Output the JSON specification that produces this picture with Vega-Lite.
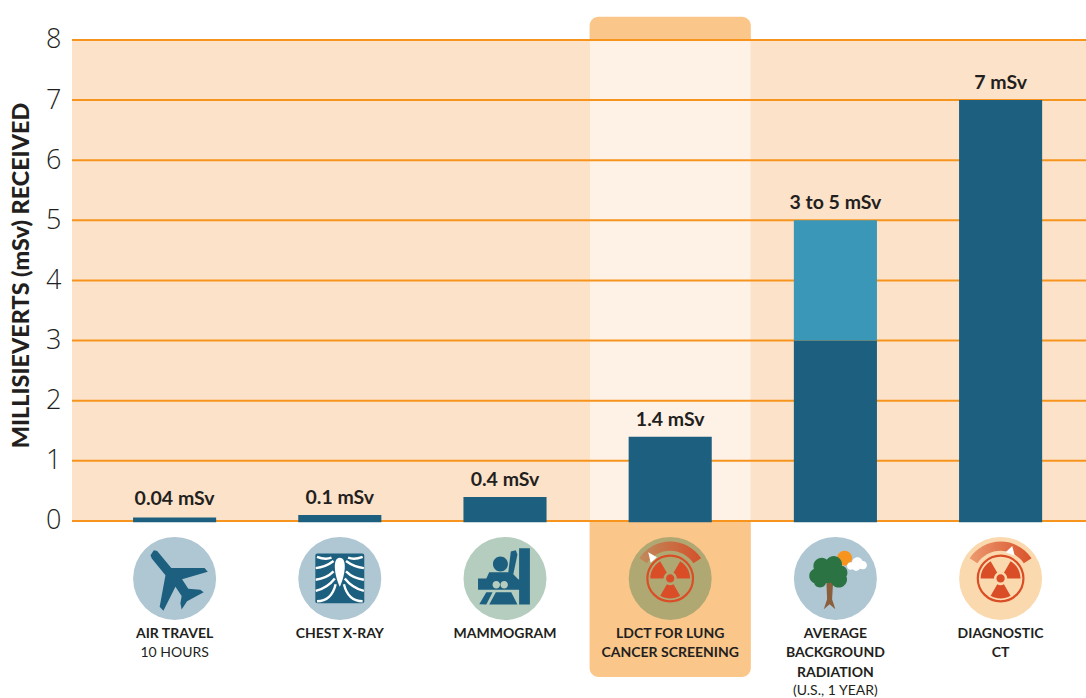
{
"$schema":"https://vega.github.io/schema/vega-lite/v6.json",
"width":1014,"height":698,
"autosize":{"type":"none"},
"padding":{"left":72,"top":0,"right":0,"bottom":0},
"background":"#ffffff",
"config":{"view":{"stroke":null}},
"datasets":{
"grid":[{"v":0},{"v":1},{"v":2},{"v":3},{"v":4},{"v":5},{"v":6},{"v":7},{"v":8}],
"band":[{"from":0,"to":8}],
"cats":[
{"cat":"air","label":"0.04 mSv","top":0.08,"name":"AIR TRAVEL"},
{"cat":"xray","label":"0.1 mSv","top":0.1,"name":"CHEST X-RAY"},
{"cat":"mammo","label":"0.4 mSv","top":0.4,"name":"MAMMOGRAM"},
{"cat":"ldct","label":"1.4 mSv","top":1.4,"name":"LDCT FOR LUNG\nCANCER SCREENING"},
{"cat":"bg","label":"3 to 5 mSv","top":5,"name":"AVERAGE\nBACKGROUND\nRADIATION"},
{"cat":"ct","label":"7 mSv","top":7,"name":"DIAGNOSTIC\nCT"}],
"subs":[{"cat":"air","sub":"10 HOURS","line":1},{"cat":"bg","sub":"(U.S., 1 YEAR)","line":3}],
"segs":[
{"cat":"air","from":-0.02,"to":0.06,"part":"low"},
{"cat":"xray","from":-0.02,"to":0.1,"part":"low"},
{"cat":"mammo","from":-0.02,"to":0.4,"part":"low"},
{"cat":"ldct","from":-0.02,"to":1.4,"part":"low"},
{"cat":"bg","from":-0.02,"to":3,"part":"low"},
{"cat":"bg","from":3,"to":5,"part":"high"},
{"cat":"ct","from":-0.02,"to":7,"part":"low"}]
},
"layer":[
{"data":{"name":"band"},
 "mark":{"type":"rect","color":"#FCE2C8"},
 "encoding":{
  "y":{"field":"from","type":"quantitative",
   "scale":{"domain":[-2.944,8.665],"nice":false,"zero":false},
   "axis":{"values":[0,1,2,3,4,5,6,7,8],"domain":false,"ticks":false,"grid":false,"labelFont":"Open Sans","labelFontSize":27,"labelFontWeight":300,"labelColor":"#231F20","labelPadding":11,"format":"d","title":"MILLISIEVERTS (mSv) RECEIVED","titleFont":"Lato","titleFontWeight":900,"titleFontSize":23.4,"titleColor":"#231F20","titleX":-51,"titleY":275,"titleAngle":270,"titleAlign":"center","titleBaseline":"middle"}},
  "y2":{"field":"to"}}},
{"data":{"name":"cats"},
 "transform":[{"filter":"datum.cat=='ldct'"}],
 "encoding":{"x":{"field":"cat","type":"nominal","axis":null,"scale":{"type":"band","domain":["air","xray","mammo","ldct","bg","ct"],"range":[20,1011.2],"paddingInner":0,"paddingOuter":0}}},
 "layer":[
  {"mark":{"type":"bar","color":"#FBC68A","cornerRadius":9,"width":{"band":0.976}},
   "encoding":{"y":{"datum":8.385,"type":"quantitative"},"y2":{"datum":-2.595}}},
  {"mark":{"type":"bar","color":"#FEF2E6","width":{"band":0.976}},
   "encoding":{"y":{"datum":8,"type":"quantitative"},"y2":{"datum":0}}}
 ]},
{"data":{"name":"grid"},
 "mark":{"type":"rule","color":"#F7941D","strokeWidth":2},
 "encoding":{"y":{"field":"v","type":"quantitative"}}},
{"encoding":{"x":{"field":"cat","type":"nominal","axis":null,"scale":{"type":"band","domain":["air","xray","mammo","ldct","bg","ct"],"range":[20,1011.2],"paddingInner":0,"paddingOuter":0}}},
 "layer":[
  {"data":{"name":"segs"},
   "mark":{"type":"bar","width":{"band":0.503}},
   "encoding":{
    "y":{"field":"from","type":"quantitative"},"y2":{"field":"to"},
    "color":{"field":"part","type":"nominal","legend":null,"scale":{"domain":["low","high"],"range":["#1D5F7F","#3A97B8"]}}}},
  {"data":{"name":"cats"},
   "mark":{"type":"text","font":"Lato","fontWeight":"bold","fontSize":19.5,"color":"#231F20","baseline":"alphabetic","dy":-11},
   "encoding":{"y":{"field":"top","type":"quantitative"},"text":{"field":"label"}}},
  {"data":{"name":"cats"},
   "mark":{"type":"point","shape":"circle","size":6889,"filled":true,"opacity":1,"strokeWidth":0},
   "encoding":{"y":{"datum":-0.956,"type":"quantitative"},
    "fill":{"field":"cat","type":"nominal","legend":null,"scale":{"domain":["air","xray","mammo","ldct","bg","ct"],"range":["#AFC6D3","#AFC6D3","#B4CDBF","#B0A873","#AFC6D3","#FBD9AE"]}}}},
  {"data":{"name":"cats"},"transform":[{"filter":"datum.cat=='air'"}],
   "mark":{"type":"point","filled":true,"opacity":1,"strokeWidth":0,"size":6889,"color":"#1D5F7F",
    "shape":"M-0.58,-0.56 L-0.5,-0.68 L-0.42,-0.66 L-0.08,-0.25 L0.72,-0.25 L0.8,-0.16 L0.18,0.02 L0.33,0.25 L0.62,0.27 L0.7,0.33 L0.3,0.55 L0.17,0.75 L0.14,0.6 L0.17,0.42 L0.02,0.2 L-0.27,0.78 L-0.36,0.68 L-0.22,-0.08 L-0.55,-0.48 Z"},
   "encoding":{"y":{"datum":-0.956,"type":"quantitative"}}},
  {"data":{"name":"cats"},"transform":[{"filter":"datum.cat=='xray'"}],
   "mark":{"type":"point","filled":true,"opacity":1,"strokeWidth":0,"size":6889,"color":"#1D5F7F",
    "shape":"M-0.59,-0.55 Q-0.59,-0.6 -0.54,-0.6 L0.54,-0.6 Q0.59,-0.6 0.59,-0.55 L0.59,0.55 Q0.59,0.6 0.54,0.6 L-0.54,0.6 Q-0.59,0.6 -0.59,0.55 Z"},
   "encoding":{"y":{"datum":-0.956,"type":"quantitative"}}},
  {"data":{"name":"cats"},"transform":[{"filter":"datum.cat=='xray'"}],
   "mark":{"type":"point","filled":false,"opacity":1,"strokeWidth":2.4,"size":6889,"color":"#ffffff",
    "shape":"M-0.55,-0.52 Q-0.35,-0.44 -0.2,-0.5 M-0.58,-0.25 Q-0.35,-0.27 -0.15,-0.42 M-0.58,0.03 Q-0.32,0 -0.15,-0.17 M-0.58,0.3 Q-0.3,0.23 -0.12,0 M-0.55,0.55 Q-0.2,0.55 -0.1,0.14 M0.55,-0.52 Q0.35,-0.44 0.2,-0.5 M0.58,-0.25 Q0.35,-0.27 0.15,-0.42 M0.58,0.03 Q0.32,0 0.15,-0.17 M0.58,0.3 Q0.3,0.23 0.12,0 M0.55,0.55 Q0.2,0.55 0.1,0.14"},
   "encoding":{"y":{"datum":-0.956,"type":"quantitative"}}},
  {"data":{"name":"cats"},"transform":[{"filter":"datum.cat=='xray'"}],
   "mark":{"type":"point","filled":true,"opacity":1,"strokeWidth":0,"size":6889,"color":"#ffffff",
    "shape":"M0,-0.5 C0.18,-0.5 0.14,-0.1 0,0.2 C-0.14,-0.1 -0.18,-0.5 0,-0.5 Z"},
   "encoding":{"y":{"datum":-0.956,"type":"quantitative"}}},
  {"data":{"name":"cats"},"transform":[{"filter":"datum.cat=='mammo'"}],
   "mark":{"type":"point","filled":true,"opacity":1,"strokeWidth":0,"size":6889,"color":"#1D5F7F",
    "shape":"M0.34,-0.73 L0.6,-0.73 L0.6,0.63 L0.34,0.63 Z M0.07,-0.35 A0.18,0.18 0 1 1 -0.29,-0.35 A0.18,0.18 0 1 1 0.07,-0.35 Z M0.14,-0.65 L0.26,-0.68 L0.3,-0.58 L0.2,-0.1 L0.3,0 L0.34,0.03 L0.34,0.27 L-0.65,0.27 L-0.65,0 L-0.45,0 L-0.38,-0.15 L0.08,-0.15 Z M-0.45,0.33 L-0.62,0.62 L-0.45,0.63 L-0.3,0.33 Z M-0.22,0.33 L0.15,0.33 L0.3,0.63 L-0.38,0.63 Z"},
   "encoding":{"y":{"datum":-0.956,"type":"quantitative"}}},
  {"data":{"name":"cats"},"transform":[{"filter":"datum.cat=='mammo'"}],
   "mark":{"type":"point","filled":true,"opacity":1,"strokeWidth":0,"size":6889,"color":"#B4CDBF",
    "shape":"M-0.12,0.15 A0.09,0.09 0 1 1 -0.3,0.15 A0.09,0.09 0 1 1 -0.12,0.15 Z M0.07,0.15 A0.09,0.09 0 1 1 -0.11,0.15 A0.09,0.09 0 1 1 0.07,0.15 Z"},
   "encoding":{"y":{"datum":-0.956,"type":"quantitative"}}},
  {"data":{"name":"cats"},"transform":[{"filter":"datum.cat=='ldct'"}],
   "mark":{"type":"point","filled":true,"opacity":1,"strokeWidth":0,"size":6889,
    "fill":{"gradient":"linear","x1":0,"y1":0,"x2":1,"y2":0,"stops":[{"offset":0,"color":"#C08A5C"},{"offset":1,"color":"#D4512B"}]},
    "shape":"M-0.746,-0.485 A0.89,0.89 0 0 1 0.746,-0.485 L0.56,-0.365 A0.67,0.67 0 0 0 -0.56,-0.365 Z"},
   "encoding":{"y":{"datum":-0.956,"type":"quantitative"}}},
  {"data":{"name":"cats"},"transform":[{"filter":"datum.cat=='ldct'"}],
   "mark":{"type":"point","filled":true,"opacity":1,"strokeWidth":0,"size":6889,"color":"#ffffff",
    "shape":"M-0.53,-0.63 L-0.32,-0.51 L-0.47,-0.38 Z"},
   "encoding":{"y":{"datum":-0.956,"type":"quantitative"}}},
  {"data":{"name":"cats"},"transform":[{"filter":"datum.cat=='ct'"}],
   "mark":{"type":"point","filled":true,"opacity":1,"strokeWidth":0,"size":6889,
    "fill":{"gradient":"linear","x1":0,"y1":0,"x2":1,"y2":0,"stops":[{"offset":0,"color":"#EC9A70"},{"offset":1,"color":"#D9532B"}]},
    "shape":"M-0.746,-0.485 A0.89,0.89 0 0 1 0.746,-0.485 L0.56,-0.365 A0.67,0.67 0 0 0 -0.56,-0.365 Z"},
   "encoding":{"y":{"datum":-0.956,"type":"quantitative"}}},
  {"data":{"name":"cats"},"transform":[{"filter":"datum.cat=='ct'"}],
   "mark":{"type":"point","filled":true,"opacity":1,"strokeWidth":0,"size":6889,"color":"#ffffff",
    "shape":"M0.28,-0.78 L0.34,-0.55 L0.12,-0.63 Z"},
   "encoding":{"y":{"datum":-0.956,"type":"quantitative"}}},
  {"data":{"name":"cats"},"transform":[{"filter":"datum.cat=='ldct' || datum.cat=='ct'"}],
   "mark":{"type":"point","filled":true,"opacity":1,"strokeWidth":0,"size":6889,"color":"#DA4E27",
    "shape":"M0.24,0.416 A0.48,0.48 0 0 1 -0.24,0.416 L-0.08,0.139 A0.16,0.16 0 0 0 0.08,0.139 Z M0.24,-0.416 A0.48,0.48 0 0 1 0.48,0 L0.16,0 A0.16,0.16 0 0 0 0.08,-0.139 Z M-0.48,0 A0.48,0.48 0 0 1 -0.24,-0.416 L-0.08,-0.139 A0.16,0.16 0 0 0 -0.16,0 Z M0.1,0 A0.1,0.1 0 1 1 -0.1,0 A0.1,0.1 0 1 1 0.1,0 Z"},
   "encoding":{"y":{"datum":-0.956,"type":"quantitative"}}},
  {"data":{"name":"cats"},"transform":[{"filter":"datum.cat=='ldct' || datum.cat=='ct'"}],
   "mark":{"type":"point","filled":false,"opacity":1,"strokeWidth":2.2,"size":6889,"color":"#DA4E27",
    "shape":"M0.55,0 A0.55,0.55 0 1 1 -0.55,0 A0.55,0.55 0 1 1 0.55,0 Z"},
   "encoding":{"y":{"datum":-0.956,"type":"quantitative"}}},
  {"data":{"name":"cats"},"transform":[{"filter":"datum.cat=='bg'"}],
   "mark":{"type":"point","filled":true,"opacity":1,"strokeWidth":0,"size":6889,"color":"#F7941D",
    "shape":"M0.4,-0.49 A0.18,0.18 0 1 1 0.04,-0.49 A0.18,0.18 0 1 1 0.4,-0.49 Z"},
   "encoding":{"y":{"datum":-0.956,"type":"quantitative"}}},
  {"data":{"name":"cats"},"transform":[{"filter":"datum.cat=='bg'"}],
   "mark":{"type":"point","filled":true,"opacity":1,"strokeWidth":0,"size":6889,"color":"#ffffff",
    "shape":"M0.46,-0.3 A0.09,0.09 0 1 1 0.28,-0.3 A0.09,0.09 0 1 1 0.46,-0.3 Z M0.66,-0.38 A0.13,0.13 0 1 1 0.4,-0.38 A0.13,0.13 0 1 1 0.66,-0.38 Z M0.76,-0.32 A0.1,0.1 0 1 1 0.56,-0.32 A0.1,0.1 0 1 1 0.76,-0.32 Z M0.6,-0.28 A0.1,0.1 0 1 1 0.4,-0.28 A0.1,0.1 0 1 1 0.6,-0.28 Z"},
   "encoding":{"y":{"datum":-0.956,"type":"quantitative"}}},
  {"data":{"name":"cats"},"transform":[{"filter":"datum.cat=='bg'"}],
   "mark":{"type":"point","filled":true,"opacity":1,"strokeWidth":0,"size":6889,"color":"#8B5E3C",
    "shape":"M-0.22,0 L-0.05,0 L-0.08,0.5 L0.0,0.74 L-0.14,0.62 L-0.28,0.74 L-0.2,0.5 Z"},
   "encoding":{"y":{"datum":-0.956,"type":"quantitative"}}},
  {"data":{"name":"cats"},"transform":[{"filter":"datum.cat=='bg'"}],
   "mark":{"type":"point","filled":true,"opacity":1,"strokeWidth":0,"size":6889,"color":"#2B7343",
    "shape":"M-0.13,-0.3 A0.2,0.2 0 1 1 -0.53,-0.3 A0.2,0.2 0 1 1 -0.13,-0.3 Z M0.16,-0.34 A0.2,0.2 0 1 1 -0.24,-0.34 A0.2,0.2 0 1 1 0.16,-0.34 Z M-0.27,-0.06 A0.18,0.18 0 1 1 -0.63,-0.06 A0.18,0.18 0 1 1 -0.27,-0.06 Z M0.05,-0.14 A0.25,0.25 0 1 1 -0.45,-0.14 A0.25,0.25 0 1 1 0.05,-0.14 Z M0.28,0.02 A0.2,0.2 0 1 1 -0.12,0.02 A0.2,0.2 0 1 1 0.28,0.02 Z M0.29,-0.14 A0.17,0.17 0 1 1 -0.05,-0.14 A0.17,0.17 0 1 1 0.29,-0.14 Z M-0.22,0.07 A0.15,0.15 0 1 1 -0.52,0.07 A0.15,0.15 0 1 1 -0.22,0.07 Z"},
   "encoding":{"y":{"datum":-0.956,"type":"quantitative"}}},
  {"data":{"name":"cats"},
   "mark":{"type":"text","font":"Lato","fontWeight":"bold","fontSize":14,"color":"#231F20","baseline":"top","lineBreak":"\n","lineHeight":19.5},
   "encoding":{"y":{"datum":-1.757,"type":"quantitative"},"text":{"field":"name"}}},
  {"data":{"name":"subs"},"transform":[{"filter":"datum.line==1"}],
   "mark":{"type":"text","font":"Lato","fontSize":14,"color":"#231F20","baseline":"middle"},
   "encoding":{"y":{"datum":-2.19,"type":"quantitative"},"text":{"field":"sub"}}},
  {"data":{"name":"subs"},"transform":[{"filter":"datum.line==3"}],
   "mark":{"type":"text","font":"Lato","fontSize":14,"color":"#231F20","baseline":"middle"},
   "encoding":{"y":{"datum":-2.83,"type":"quantitative"},"text":{"field":"sub"}}}
 ]}
]
}
